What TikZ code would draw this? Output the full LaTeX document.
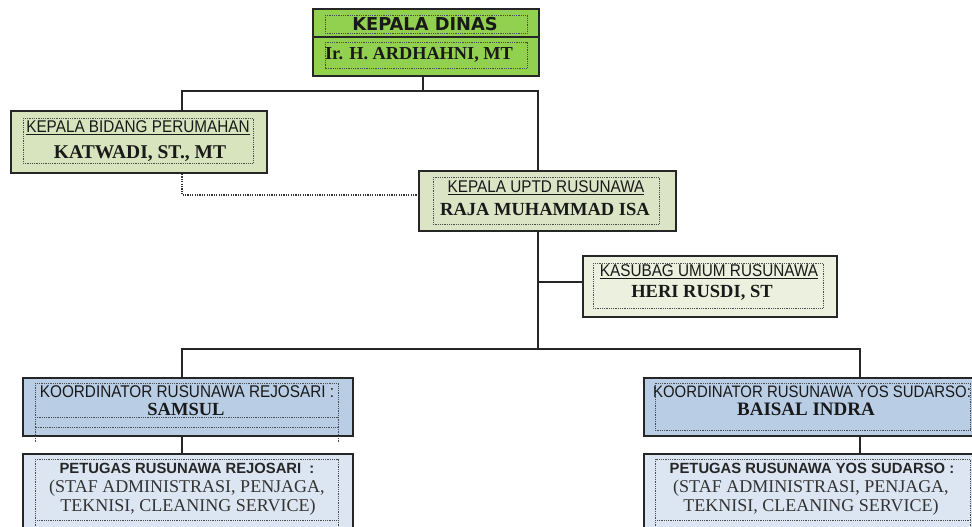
\documentclass[tikz,border=0pt]{standalone}
\usepackage{fontspec}
\setmainfont{Liberation Serif}
\newfontfamily\arialfont{Liberation Sans}
\newfontfamily\narrowfont[FakeStretch=0.9]{Liberation Sans}
\newfontfamily\dejafont{DejaVu Sans}
\definecolor{cdinas}{HTML}{92D050}
\definecolor{cbidang}{HTML}{D7E4BD}
\definecolor{cuptd}{HTML}{DCE4C6}
\definecolor{ckasubag}{HTML}{EBF1DE}
\definecolor{ckoord}{HTML}{B9CDE5}
\definecolor{cpetugas}{HTML}{DCE6F2}
\begin{document}
\begin{tikzpicture}[x=1pt,y=-1pt,
  orgbox/.style={draw=black!85, line width=2pt, inner sep=0pt, anchor=north west},
  conn/.style={draw=black!85, line width=1.8pt},
  dotline/.style={draw=black!80, line width=1.8pt, dash pattern=on 1.2pt off 1.2pt},
  innerdot/.style={draw=black!70, line width=0.9pt, dash pattern=on 0.9pt off 0.9pt},
  titletxt/.style={inner sep=0pt, font=\narrowfont\fontsize{17}{17}\selectfont, text=black!90},
  nametxt/.style={inner sep=0pt, font=\bfseries\fontsize{18.5}{18.5}\selectfont, text=black!90},
  bodytxt/.style={inner sep=0pt, font=\fontsize{18}{18}\selectfont, text=black!80},
  pettxt/.style={inner sep=0pt, font=\arialfont\bfseries\fontsize{14.8}{14.8}\selectfont, text=black!85}]
\useasboundingbox (0,0) rectangle (972,527);
\clip (0,0) rectangle (972,527);
% boxes
\node[orgbox, fill=cdinas, minimum width=226pt, minimum height=67pt] (dinas) at (312,8) {};
\node[orgbox, fill=cbidang, minimum width=256pt, minimum height=62pt] (bidang) at (10,110) {};
\node[orgbox, fill=cuptd, minimum width=257pt, minimum height=60pt] (uptd) at (418,170) {};
\node[orgbox, fill=ckasubag, minimum width=254pt, minimum height=61pt] (kasubag) at (582,255) {};
\node[orgbox, fill=ckoord, minimum width=330pt, minimum height=58pt] (krej) at (22,377) {};
\node[orgbox, fill=ckoord, minimum width=345pt, minimum height=58pt] (kyos) at (643,377) {};
\node[orgbox, fill=cpetugas, minimum width=330pt, minimum height=95pt] (prej) at (22,453) {};
\node[orgbox, fill=cpetugas, minimum width=345pt, minimum height=95pt] (pyos) at (643,453) {};
% divider in dinas
\coordinate (dvl) at (312,37);
\draw[conn] (dvl) -- (dvl -| dinas.east);
% inner dotted frames
\draw[innerdot] (325,15) rectangle (527,33);
\draw[innerdot] (325,42) rectangle (527,68);
\draw[innerdot] (23,118) rectangle (253,163);
\draw[innerdot] (433,177) rectangle (659,224);
\draw[innerdot] (593,263) rectangle (823,308);
\draw[innerdot] (35,383) rectangle (338,427);
\draw[innerdot] (35,427) -- (35,442);
\draw[innerdot] (338,427) -- (338,442);
\draw[innerdot] (35,417) -- (338,417);
\draw[innerdot] (655,383) rectangle (970,430);
\draw[innerdot] (35,459) rectangle (338,520);
\draw[innerdot] (35,520) -- (35,530);
\draw[innerdot] (338,520) -- (338,530);
\draw[innerdot] (655,459) rectangle (970,520);
\draw[innerdot] (655,520) -- (655,530);
\draw[innerdot] (970,520) -- (970,530);
% connectors
\coordinate (jc) at (423,91);
\coordinate (jl) at (182,91);
\coordinate (jr) at (538,91);
\coordinate (jb) at (538,349);
\coordinate (jk) at (538,282);
\coordinate (hl) at (182,349);
\coordinate (hr) at (860,349);
\coordinate (dl) at (182,195);
\draw[conn] (jc |- dinas.south) -- (jc);
\draw[conn] (jl |- bidang.north) -- (jl) -- (jr) -- (jr |- uptd.north);
\draw[conn] (jr |- uptd.south) -- (jb);
\draw[conn] (jk) -- (jk -| kasubag.west);
\draw[conn] (hl |- krej.north) -- (hl) -- (hr) -- (hr |- kyos.north);
\draw[conn] (hl |- krej.south) -- (hl |- prej.north);
\draw[conn] (hr |- kyos.south) -- (hr |- pyos.north);
\draw[dotline] (jl |- bidang.south) -- (dl) -- (dl -| uptd.west);
% texts
\node[inner sep=0pt, font=\dejafont\bfseries\fontsize{17.8}{17.8}\selectfont, text=black!90] (t1) at (425,24) {KEPALA DINAS};
\node[nametxt, font=\bfseries\fontsize{18.3}{18.3}\selectfont] (t2) at (419,55) {Ir. H. ARDHAHNI, MT};
\node[titletxt] (t3) at (138,128) {\underline{KEPALA BIDANG PERUMAHAN}};
\node[nametxt, font=\bfseries\fontsize{19.5}{19.5}\selectfont] (t4) at (140,154) {KATWADI, ST., MT};
\node[titletxt] (t5) at (546,188) {\underline{KEPALA UPTD RUSUNAWA}};
\node[nametxt] (t6) at (545,209) {RAJA MUHAMMAD ISA};
\node[titletxt] (t7) at (709,272) {\underline{KASUBAG UMUM RUSUNAWA}};
\node[nametxt] (t8) at (702,293) {HERI RUSDI, ST};
\node[titletxt] (t9) at (187,392) {KOORDINATOR RUSUNAWA REJOSARI :};
\node[nametxt] (t10) at (186,409) {SAMSUL};
\node[titletxt, font=\narrowfont\fontsize{16.6}{16.6}\selectfont] (t11) at (812,392) {KOORDINATOR RUSUNAWA YOS SUDARSO:};
\node[nametxt, font=\bfseries\fontsize{19}{19}\selectfont] (t12) at (806,409) {BAISAL INDRA};
\node[pettxt] (t13) at (187,468) {PETUGAS RUSUNAWA REJOSARI\ \ :};
\node[bodytxt] (t14) at (187,488) {(STAF ADMINISTRASI, PENJAGA,};
\node[bodytxt] (t15) at (188,507) {TEKNISI, CLEANING SERVICE)};
\node[pettxt] (t16) at (812,468) {PETUGAS RUSUNAWA YOS SUDARSO :};
\node[bodytxt] (t17) at (811,488) {(STAF ADMINISTRASI, PENJAGA,};
\node[bodytxt] (t18) at (811,507) {TEKNISI, CLEANING SERVICE)};
\end{tikzpicture}
\end{document}
